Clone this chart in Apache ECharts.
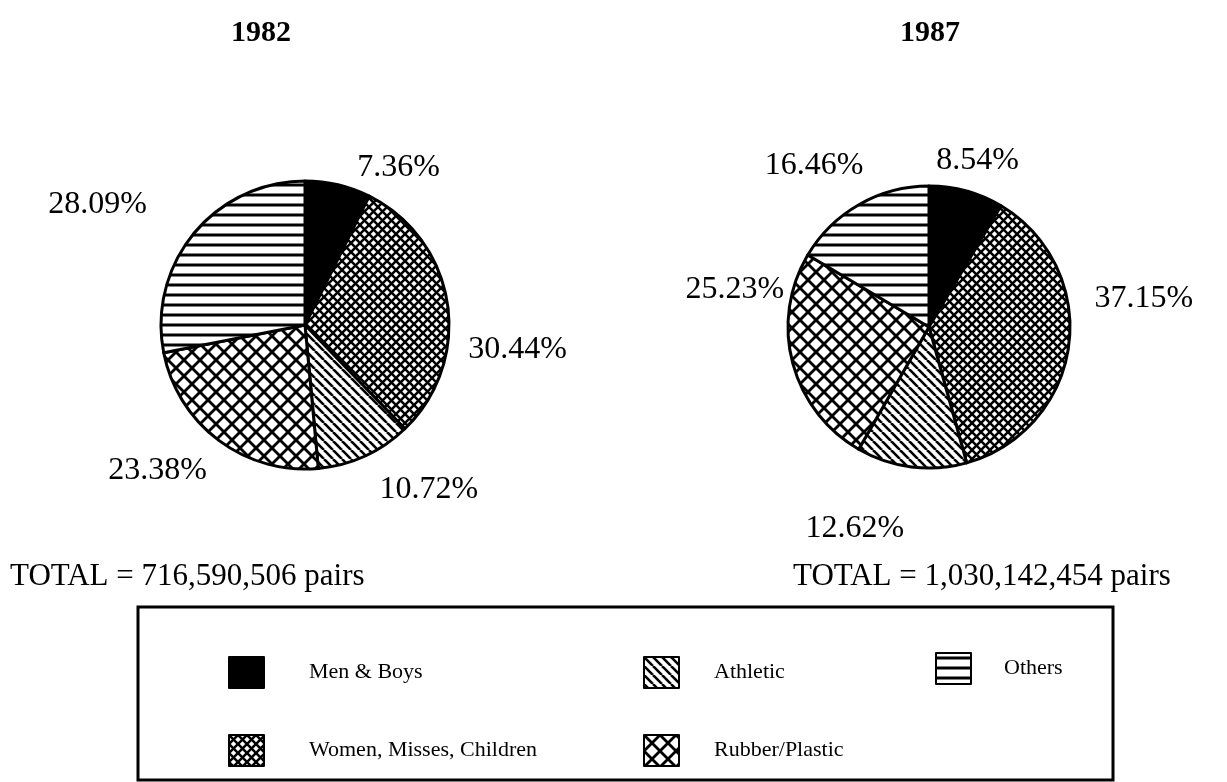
<!DOCTYPE html>
<html><head><meta charset="utf-8">
<script src="https://cdn.jsdelivr.net/npm/echarts@6/dist/echarts.min.js"></script>
<style>html,body{margin:0;padding:0;background:#fff}#c{width:1227px;height:782px}</style>
</head><body><div id="c"></div>
<script>
// ---- data ----
const categories = ['Men & Boys', 'Women, Misses, Children', 'Athletic', 'Rubber/Plastic', 'Others'];
const years = ['1982', '1987'];
const values1982 = [7.36, 30.44, 10.72, 23.38, 28.09];
const values1987 = [8.54, 37.15, 12.62, 25.23, 16.46];
const totals = ['TOTAL = 716,590,506 pairs', 'TOTAL = 1,030,142,454 pairs'];

// ---- layout (label nudges, px) ----
const labelNudge1982 = [[10, 0], [-2, 49], [2, 17], [4, 16], [-28, -18]];
const labelNudge1987 = [[-40, -13], [3, -49], [0, 44], [14, -78], [18, -23]];

// ---- patterns ----
function tile(s, draw) {
  const c = document.createElement('canvas');
  c.width = s; c.height = s;
  const g = c.getContext('2d');
  g.fillStyle = '#fff'; g.fillRect(0, 0, s, s);
  g.strokeStyle = '#000'; g.lineCap = 'butt';
  draw(g, s);
  return { image: c, repeat: 'repeat' };
}
function back(g, s) { for (let k = -1; k <= 1; k++) { g.beginPath(); g.moveTo(k * s, 0); g.lineTo(k * s + s, s); g.stroke(); } }
function fwd(g, s) { for (let k = -1; k <= 1; k++) { g.beginPath(); g.moveTo(k * s, s); g.lineTo(k * s + s, 0); g.stroke(); } }
const fills = [
  '#000',
  tile(9, (g, s) => { g.lineWidth = 2.5; back(g, s); fwd(g, s); }),
  tile(9, (g, s) => { g.lineWidth = 2.6; back(g, s); }),
  tile(16, (g, s) => { g.lineWidth = 2.8; back(g, s); fwd(g, s); }),
  tile(10, (g, s) => { g.lineWidth = 3; g.beginPath(); g.moveTo(0, 5); g.lineTo(s, 5); g.stroke(); })
];

const FONT = 'Liberation Serif';
function pieSeries(vals, nudge, center, radius) {
  return {
    type: 'pie', center: center, radius: radius, startAngle: 90, clockwise: true,
    avoidLabelOverlap: false, silent: true, animation: false,
    itemStyle: { borderColor: '#000', borderWidth: 3 },
    label: {
      show: true, position: 'outside', color: '#000', fontFamily: FONT, fontSize: 32,
      formatter: p => p.value.toFixed(2) + '%'
    },
    labelLine: { show: false, length: 18, length2: 0 },
    data: categories.map((n, i) => ({
      name: n, value: vals[i], itemStyle: { color: fills[i] },
      label: { offset: nudge[i] }
    }))
  };
}

const chart = echarts.init(document.getElementById('c'));
function legendCol(left, top, names, padLeft) {
  return {
    left: left, top: top, padding: 0, data: names,
    orient: 'vertical', icon: 'rect', itemWidth: 35, itemHeight: 31, itemGap: 45, selectedMode: false,
    textStyle: { color: '#000', fontFamily: FONT, fontSize: 22, padding: [0, 0, 0, padLeft] }
  };
}
const titleStyle = { fontFamily: FONT, fontWeight: 'bold', fontSize: 30, color: '#000' };
const totalStyle = { fontFamily: FONT, fontWeight: 'normal', fontSize: 31, color: '#000' };
chart.setOption({
  backgroundColor: '#fff',
  title: [
    { text: years[0], left: 256, top: 13, textAlign: 'center', textStyle: titleStyle },
    { text: years[1], left: 925, top: 13, textAlign: 'center', textStyle: titleStyle },
    { text: totals[0], left: 5, top: 556, textStyle: totalStyle },
    { text: totals[1], left: 788, top: 556, textStyle: totalStyle }
  ],
  legend: [
    legendCol(228, 656, [categories[0], categories[1]], 40),
    legendCol(643, 656, [categories[2], categories[3]], 30),
    legendCol(935, 652, [categories[4]], 28)
  ],
  graphic: [
    { type: 'rect', shape: { x: 138, y: 607, width: 975, height: 173 }, style: { fill: 'none', stroke: '#000', lineWidth: 3 } }
  ],
  series: [
    pieSeries(values1982, labelNudge1982, [305, 325], 144),
    pieSeries(values1987, labelNudge1987, [929, 327], 141)
  ]
});
</script></body></html>
